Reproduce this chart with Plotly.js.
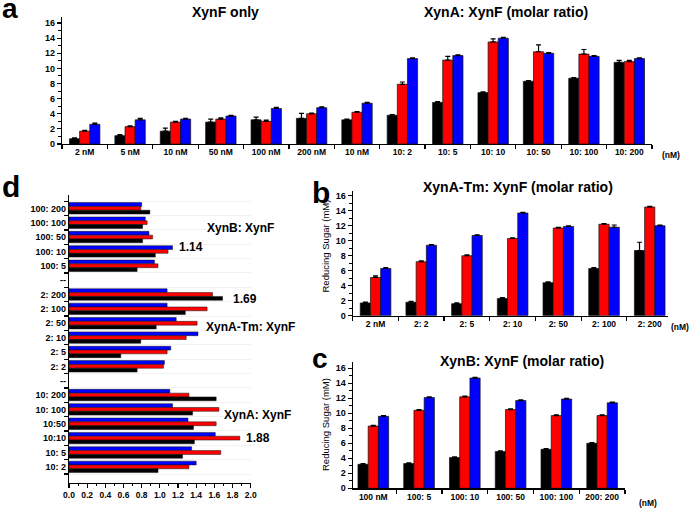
<!DOCTYPE html>
<html>
<head>
<meta charset="utf-8">
<script src="https://cdn.plot.ly/plotly-3.0.1.min.js"></script>
<style>
  html, body { margin: 0; padding: 0; background: #fff; }
  #chart { width: 696px; height: 509px; }
</style>
</head>
<body>
<div id="chart"></div>
<script>
// panel a: XynF only + XynA:XynF
var sampleA = ["2 nM", "5 nM", "10 nM", "50 nM", "100 nM", "200 nM", "10 nM", "10: 2", "10: 5", "10: 10", "10: 50", "10: 100", "10: 200"];
var aBlack = [0.7, 1.1, 1.7, 2.9, 3.2, 3.4, 3.2, 3.8, 5.5, 6.8, 8.3, 8.7, 10.8];
var aRed   = [1.7, 2.3, 2.9, 3.3, 3.0, 4.0, 4.2, 7.9, 11.1, 13.5, 12.2, 11.9, 10.9];
var aBlue  = [2.6, 3.2, 3.3, 3.7, 4.7, 4.8, 5.4, 11.3, 11.7, 14.0, 12.0, 11.6, 11.3];
var aBlackErr = [0.1, 0.15, 0.4, 0.4, 0.35, 0.65, 0.1, 0.1, 0.1, 0.1, 0.1, 0.1, 0.25];
var aRedErr   = [0.1, 0.1, 0.1, 0.15, 0.15, 0.1, 0.1, 0.3, 0.5, 0.4, 0.9, 0.6, 0.15];
var aBlueErr  = [0.15, 0.2, 0.1, 0.1, 0.15, 0.1, 0.1, 0.1, 0.1, 0.1, 0.1, 0.1, 0.1];

// panel b: XynA-Tm:XynF
var sampleB = ["2 nM", "2: 2", "2: 5", "2: 10", "2: 50", "2: 100", "2: 200"];
var bBlack = [1.7, 1.8, 1.6, 2.3, 4.4, 6.3, 8.7];
var bRed   = [5.1, 7.2, 8.0, 10.3, 11.7, 12.2, 14.5];
var bBlue  = [6.3, 9.4, 10.7, 13.7, 11.9, 11.8, 12.0];
var bBlackErr = [0.1, 0.1, 0.1, 0.1, 0.1, 0.1, 1.1];
var bRedErr   = [0.2, 0.1, 0.1, 0.1, 0.1, 0.1, 0.1];
var bBlueErr  = [0.1, 0.1, 0.1, 0.1, 0.1, 0.3, 0.1];

// panel c: XynB:XynF
var sampleC = ["100 nM", "100: 5", "100: 10", "100: 50", "100: 100", "200: 200"];
var cBlack = [3.2, 3.3, 4.1, 4.9, 5.2, 6.0];
var cRed   = [8.3, 10.4, 12.2, 10.5, 9.7, 9.7];
var cBlue  = [9.6, 12.1, 14.7, 11.7, 11.9, 11.4];
var cBlackErr = [0.1, 0.1, 0.1, 0.1, 0.1, 0.1];
var cRedErr   = [0.1, 0.1, 0.1, 0.1, 0.1, 0.1];
var cBlueErr  = [0.1, 0.1, 0.1, 0.1, 0.1, 0.1];

// panel d: ratios (top to bottom)
var sampleD = ["100: 200", "100: 100", "100: 50", "100: 10", "100: 5", "--", "2: 200", "2: 100", "2: 50", "2: 10", "2: 5", "2: 2", "--", "10: 200", "10: 100", "10:50", "10:10", "10: 5", "10: 2"];
var dBlack = [0.89, 0.81, 0.81, 0.95, 0.75, null, 1.69, 1.28, 0.96, 0.79, 0.57, 0.75, null, 1.62, 1.36, 1.37, 1.38, 1.25, 0.98];
var dRed   = [0.79, 0.86, 0.92, 1.09, 0.98, null, 1.58, 1.52, 1.41, 1.29, 1.08, 1.04, null, 1.32, 1.65, 1.62, 1.88, 1.67, 1.32];
var dBlue  = [0.80, 0.84, 0.88, 1.14, 0.94, null, 1.08, 1.08, 1.18, 1.42, 1.12, 1.05, null, 1.11, 1.14, 1.31, 1.61, 1.35, 1.40];

var W = 696, H = 509;
var FONT = "Liberation Sans, Arial, sans-serif";
var RED = "#ff0000", BLUE = "#0000ff", BLACK = "#000000";

function idx(arr) { return arr.map(function (v, i) { return i; }); }
function px(x) { return x / W; }
function py(y) { return 1 - y / H; }

function vbar(xs, ys, err, color, xa, ya) {
  return {
    type: "bar", x: idx(xs), y: ys, xaxis: xa, yaxis: ya,
    marker: { color: color, line: { color: "#111", width: 0.7 } },
    error_y: { type: "data", symmetric: false, array: err, arrayminus: ys.map(function () { return 0; }),
               color: "#000", thickness: 1.2, width: 2.5 },
    hoverinfo: "skip"
  };
}

function hbar(vals, color, off) {
  return {
    type: "bar", orientation: "h", x: vals, y: idx(sampleD), xaxis: "x4", yaxis: "y4",
    width: 0.265, offset: off,
    marker: { color: color, line: { color: "#111", width: 0.5 } },
    hoverinfo: "skip"
  };
}

var data = [
  vbar(sampleA, aBlack, aBlackErr, BLACK, "x", "y"),
  vbar(sampleA, aRed, aRedErr, RED, "x", "y"),
  vbar(sampleA, aBlue, aBlueErr, BLUE, "x", "y"),
  vbar(sampleB, bBlack, bBlackErr, BLACK, "x2", "y2"),
  vbar(sampleB, bRed, bRedErr, RED, "x2", "y2"),
  vbar(sampleB, bBlue, bBlueErr, BLUE, "x2", "y2"),
  vbar(sampleC, cBlack, cBlackErr, BLACK, "x3", "y3"),
  vbar(sampleC, cRed, cRedErr, RED, "x3", "y3"),
  vbar(sampleC, cBlue, cBlueErr, BLUE, "x3", "y3"),
  hbar(dBlue, BLUE, -0.4),
  hbar(dRed, RED, -0.135),
  hbar(dBlack, BLACK, 0.13)
];

var tickFont = { family: FONT, size: 8.5, color: "#000", weight: "bold" };

function catAxis(labels, domain, range, anchor) {
  return {
    domain: domain, anchor: anchor, range: range,
    tickmode: "array", tickvals: idx(labels), ticktext: labels,
    ticks: "", showgrid: false, zeroline: false,
    showline: true, linecolor: "#000", linewidth: 1.2,
    tickfont: tickFont,
    minor: { tickmode: "linear", tick0: 0.5, dtick: 1, ticks: "outside", ticklen: 4, tickcolor: "#000", tickwidth: 1.2, showgrid: false }
  };
}

function valAxis(domain, top, anchor) {
  return {
    domain: domain, anchor: anchor, range: [0, top],
    dtick: 2, ticks: "outside", ticklen: 4, tickwidth: 1.2, tickcolor: "#000",
    showgrid: false, zeroline: false,
    showline: true, linecolor: "#000", linewidth: 1.2,
    tickfont: { family: FONT, size: 9, color: "#000", weight: "bold" },
    minor: { dtick: 1, ticks: "outside", ticklen: 2.5, tickcolor: "#000", tickwidth: 1, showgrid: false }
  };
}

function note(text, x, y, size, opts) {
  var a = {
    text: text, x: px(x), y: py(y), xref: "paper", yref: "paper",
    showarrow: false, xanchor: "center", yanchor: "middle",
    font: { family: FONT, size: size, color: "#000", weight: "bold" }
  };
  for (var k in opts) a[k] = opts[k];
  return a;
}

var axisTitleFont = { family: FONT, size: 9.5, color: "#000" };

var layout = {
  width: W, height: H,
  margin: { l: 0, r: 0, t: 0, b: 0 },
  paper_bgcolor: "#fff", plot_bgcolor: "#fff",
  showlegend: false,
  barmode: "group", bargap: 0.33, bargroupgap: 0,
  xaxis: catAxis(sampleA, [px(62), px(652)], [-0.5, 12.5], "y"),
  yaxis: valAxis([py(144), py(17)], 16.8, "x"),
  xaxis2: catAxis(sampleB, [px(352.7), px(668)], [-0.5, 6.4], "y2"),
  yaxis2: valAxis([py(315.7), py(190.5)], 16.7, "x2"),
  xaxis3: catAxis(sampleC, [px(352.7), px(625)], [-0.45, 5.5], "y3"),
  yaxis3: valAxis([py(488.3), py(362.3)], 16.8, "x3"),
  xaxis4: {
    domain: [px(69), px(250.7)], anchor: "y4", range: [0, 2],
    dtick: 0.2, tickformat: ".1f", ticks: "outside", ticklen: 4, tickwidth: 1.2, tickcolor: "#000",
    showgrid: false, zeroline: false, showline: true, linecolor: "#000", linewidth: 1.2,
    tickfont: tickFont,
    minor: { dtick: 0.1, ticks: "outside", ticklen: 2.5, tickcolor: "#000", tickwidth: 1, showgrid: false }
  },
  yaxis4: {
    domain: [py(482.7), py(195)], anchor: "x4", range: [19.1, -0.93],
    tickmode: "array", tickvals: idx(sampleD), ticktext: sampleD, ticks: "",
    showgrid: false, zeroline: false, showline: true, linecolor: "#000", linewidth: 1.2,
    tickfont: { family: FONT, size: 9, color: "#000", weight: "bold" },
    minor: { tickmode: "linear", tick0: 0.5, dtick: 1, ticks: "outside", ticklen: 4, tickcolor: "#000", tickwidth: 1.2,
             showgrid: true, gridcolor: "#f2f2f2", gridwidth: 1 }
  },
  annotations: [
    note("a", 0, 8, 28, { xanchor: "left" }),
    note("d", 0, 186.5, 30, { xanchor: "left" }),
    note("b", 310, 192.5, 30, { xanchor: "left" }),
    note("c", 310, 358, 28, { xanchor: "left" }),
    note("XynF only", 225, 12, 14),
    note("XynA: XynF (molar ratio)", 506, 12, 14),
    note("XynA-Tm: XynF (molar ratio)", 518, 187, 14),
    note("XynB: XynF (molar ratio)", 522, 361, 14),
    note("(nM)", 671, 155.5, 8.5),
    note("(nM)", 680, 326.5, 8.5),
    note("(nM)", 648, 503, 8.5),
    note("Reducing Sugar (mM)", 324.5, 246, 9.5, { textangle: -90, font: axisTitleFont }),
    note("Reducing Sugar (mM)", 325, 425, 9.5, { textangle: -90, font: axisTitleFont }),
    note("XynB: XynF", 205, 228, 12, { xanchor: "left" }),
    note("1.14", 177, 247.5, 12, { xanchor: "left" }),
    note("1.69", 230.5, 299, 12, { xanchor: "left" }),
    note("XynA-Tm: XynF", 204, 326.5, 12, { xanchor: "left" }),
    note("XynA: XynF", 222, 415, 12, { xanchor: "left" }),
    note("1.88", 244, 437.7, 12, { xanchor: "left" })
  ]
};

Plotly.newPlot("chart", data, layout, { staticPlot: true, displayModeBar: false });
</script>
</body>
</html>
